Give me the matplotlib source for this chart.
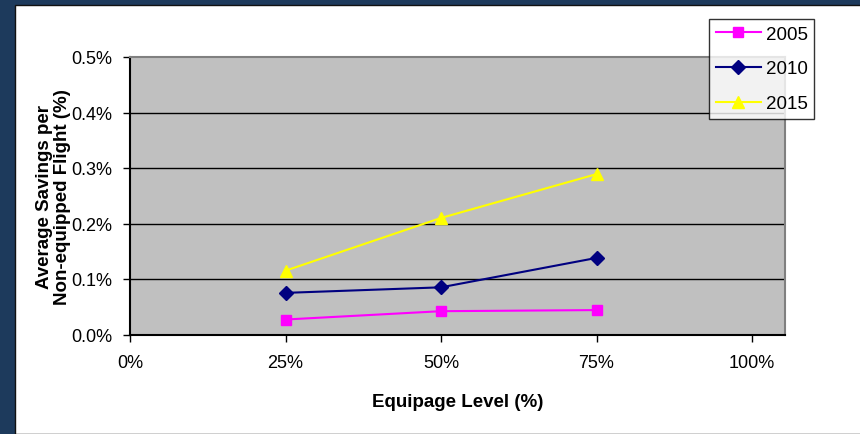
import matplotlib.pyplot as plt
from matplotlib.patches import Rectangle
from matplotlib.ticker import FuncFormatter

plt.rcParams['font.family'] = ['Liberation Sans', 'DejaVu Sans']

equipage = [0.25, 0.50, 0.75]
years = ['2005', '2010', '2015']
savings_2005 = [0.027, 0.042, 0.044]
savings_2010 = [0.075, 0.085, 0.138]
savings_2015 = [0.115, 0.210, 0.289]

fig = plt.figure(figsize=(8.6, 4.35), dpi=100)
fig.patch.set_facecolor('#1d3a5c')
# white slide area with a thin dark edge
fig.patches.append(Rectangle((15 / 860, 0), 1, 1 - 6 / 435, transform=fig.transFigure,
                             facecolor='white', edgecolor='#111111', linewidth=1.0,
                             zorder=-10))

ax = fig.add_axes([130 / 860, 1 - 335.5 / 435, 655 / 860, 277.5 / 435])
ax.set_facecolor('#c0c0c0')

ax.plot(equipage, savings_2005, color='#ff00ff', marker='s', markersize=7.5, lw=1.5, label=years[0])
ax.plot(equipage, savings_2010, color='#000080', marker='D', markersize=7, lw=1.5, label=years[1])
ax.plot(equipage, savings_2015, color='#ffff00', marker='^', markersize=9, lw=1.5, label=years[2])

ax.set_xlim(0, 1.053)
ax.set_ylim(0, 0.5)
ax.set_xticks([0, 0.25, 0.5, 0.75, 1.0])
ax.set_yticks([0, 0.1, 0.2, 0.3, 0.4, 0.5])
ax.xaxis.set_major_formatter(FuncFormatter(lambda v, p: f'{v * 100:.0f}%'))
ax.yaxis.set_major_formatter(FuncFormatter(lambda v, p: f'{v:.1f}%'))
ax.tick_params(direction='out', length=5, width=1, labelsize=13, colors='black', pad=8)
ax.tick_params(axis='x', pad=9)

for y in [0.1, 0.2, 0.3, 0.4]:
    ax.axhline(y, color='black', lw=1, zorder=1)

ax.spines['left'].set_color('black')
ax.spines['bottom'].set_color('black')
ax.spines['top'].set_color('#808080')
ax.spines['right'].set_color('#808080')
for s in ax.spines.values():
    s.set_linewidth(1.5)

ax.set_xlabel('Equipage Level (%)', fontsize=13.5, fontweight='bold', labelpad=16)
ax.set_ylabel('Average Savings per\nNon-equipped Flight (%)', fontsize=13.5,
              fontweight='bold', labelpad=0, linespacing=1.1)

leg = ax.legend(loc='upper left', bbox_to_anchor=(709 / 860, 1 - 20 / 435),
                bbox_transform=fig.transFigure, fontsize=13.5, frameon=True,
                fancybox=False, edgecolor='black', handlelength=2.4,
                borderpad=0.35, labelspacing=0.94, handletextpad=0.27,
                borderaxespad=0)
leg.get_frame().set_linewidth(1)

fig.savefig('out.png', dpi=100)
